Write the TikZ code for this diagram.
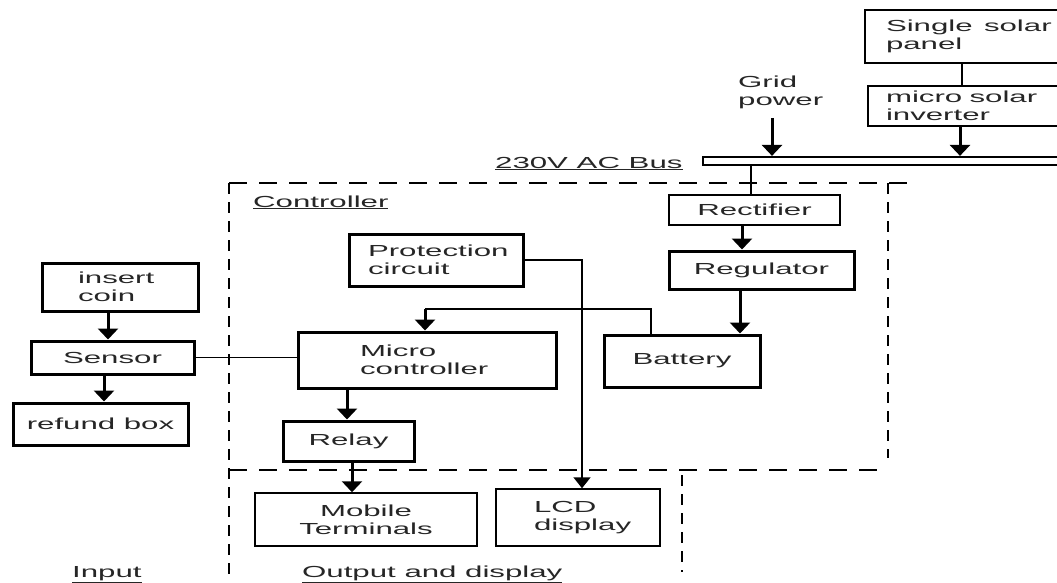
\documentclass[tikz,border=0pt]{standalone}
\usepackage{fontspec}
\setmainfont{Liberation Sans}[FakeStretch=1.95]
\usetikzlibrary{arrows.meta,calc}
\begin{document}
\begin{tikzpicture}[x=1pt,y=-1pt,
  every node/.style={font=\fontsize{16}{18}\selectfont, text=black!85},
  thickbox/.style={draw=black, line width=3pt, inner sep=0pt, align=center},
  thinbox/.style={draw=black, line width=1.5pt, inner sep=0pt, align=center},
  sz/.style 2 args={minimum width=#1pt, minimum height=#2pt},
  lt/.style 2 args={text width=#1pt, align=left, inner xsep=#2pt},
  lbl/.style={inner sep=0pt, align=left},
  arr/.style={line width=3pt, -{Triangle[width=20pt,length=11pt]}},
  wire/.style={line width=1.4pt},
  hdash/.style={line width=1.6pt, dash pattern=on 18pt off 12pt},
  vdash/.style={line width=1.6pt, dash pattern=on 11pt off 8pt}]
\useasboundingbox (0,0) rectangle (1057,583);

% dashed region borders
\draw[hdash] (229,183) -- (910,183);
\draw[vdash] (229,183) -- (229,575);
\draw[vdash] (888,183) -- (888,458);
\draw[hdash] (229,470) -- (880,470);
\draw[vdash] (682,475) -- (682,572);

% boxes
\node[thinbox, sz={210}{53}, lt={168}{21}] (panel) at (970,36.5) {Single\hspace{6pt} solar\\panel};
\node[thinbox, sz={207}{40}, lt={171}{18}] (inverter) at (971.5,106) {micro\hspace{2pt} solar\\inverter};
\node[draw=black, line width=2.2pt, inner sep=0pt, minimum width=372pt, minimum height=8pt] (bus) at (889,161) {};
\node[thinbox, sz={171}{30}] (rect) at (754.5,210) {Rectifier};
\node[thickbox, sz={185}{38}] (reg) at (761.5,270) {Regulator};
\node[thickbox, sz={156}{52}] (batt) at (682,361) {Battery};
\node[thickbox, sz={174}{52}, lt={136}{19}] (prot) at (436,260) {Protection\\circuit};
\node[thickbox, sz={258}{56}, lt={134}{62}] (mc) at (427,360) {Micro\\controller};
\node[thickbox, sz={131}{40}] (relay) at (348.5,441) {Relay};
\node[thinbox, sz={222}{53}] (mobile) at (366,519.5) {Mobile\\Terminals};
\node[thinbox, sz={164}{57}, lt={88}{38}] (lcd) at (578,517.5) {LCD\\display};
\node[thickbox, sz={156}{48}, lt={84}{36}] (coin) at (120,287) {insert\\coin};
\node[thickbox, sz={163}{33}] (sensor) at (112.5,357.5) {Sensor};
\node[thickbox, sz={175}{42}] (refund) at (100.5,424) {refund box};

% labels
\node[lbl, anchor=north west] (grid) at (738,75.3) {Grid\\power};
\node[lbl, anchor=base west] (bustxt) at (495,168) {\underline{230V AC Bus}};
\node[lbl, anchor=base west] (ctrl) at (253,207) {\underline{Controller}};
\node[lbl, anchor=base west] (inp) at (72,577) {\underline{Input}};
\node[lbl, anchor=base west] (outp) at (302,577) {\underline{Output and display}};

% helper coordinates
\coordinate (xp) at (962,0);
\coordinate (xi) at (960,0);
\coordinate (gtail) at (772,118);
\coordinate (xb) at (751,0);
\coordinate (xr) at (742,0);
\coordinate (xq) at (740,0);
\coordinate (xt) at (651,0);
\coordinate (xm) at (425,0);
\coordinate (xv) at (582,0);
\coordinate (yj) at (0,309);
\coordinate (xs1) at (108,0);
\coordinate (xs2) at (104,0);
\coordinate (xmc) at (347,0);
\coordinate (xrl) at (352,0);

% connectors
\draw[wire] (panel.south -| xp) -- (inverter.north -| xp);
\draw[arr] (inverter.south -| xi) -- (bus.north -| xi);
\draw[arr] (gtail) -- (bus.north -| gtail);
\draw[wire] (bus.south -| xb) -- (rect.north -| xb);
\draw[arr] (rect.south -| xr) -- (reg.north -| xr);
\draw[arr] (reg.south -| xq) -- (batt.north -| xq);
\draw[wire] (batt.north -| xt) -- (xt |- yj) -- (xm |- yj);
\draw[arr] (xm |- yj) -- (mc.north -| xm);
\draw[line width=1.8pt, -{Triangle[width=17pt,length=11pt]}] (prot.east) -- (prot.east -| xv) -- (lcd.north -| xv);
\draw[wire] (sensor.east) -- (mc.west |- sensor.east);
\draw[arr] (coin.south -| xs1) -- (sensor.north -| xs1);
\draw[arr] (sensor.south -| xs2) -- (refund.north -| xs2);
\draw[arr] (mc.south -| xmc) -- (relay.north -| xmc);
\draw[arr] (relay.south -| xrl) -- (mobile.north -| xrl);
\end{tikzpicture}
\end{document}
